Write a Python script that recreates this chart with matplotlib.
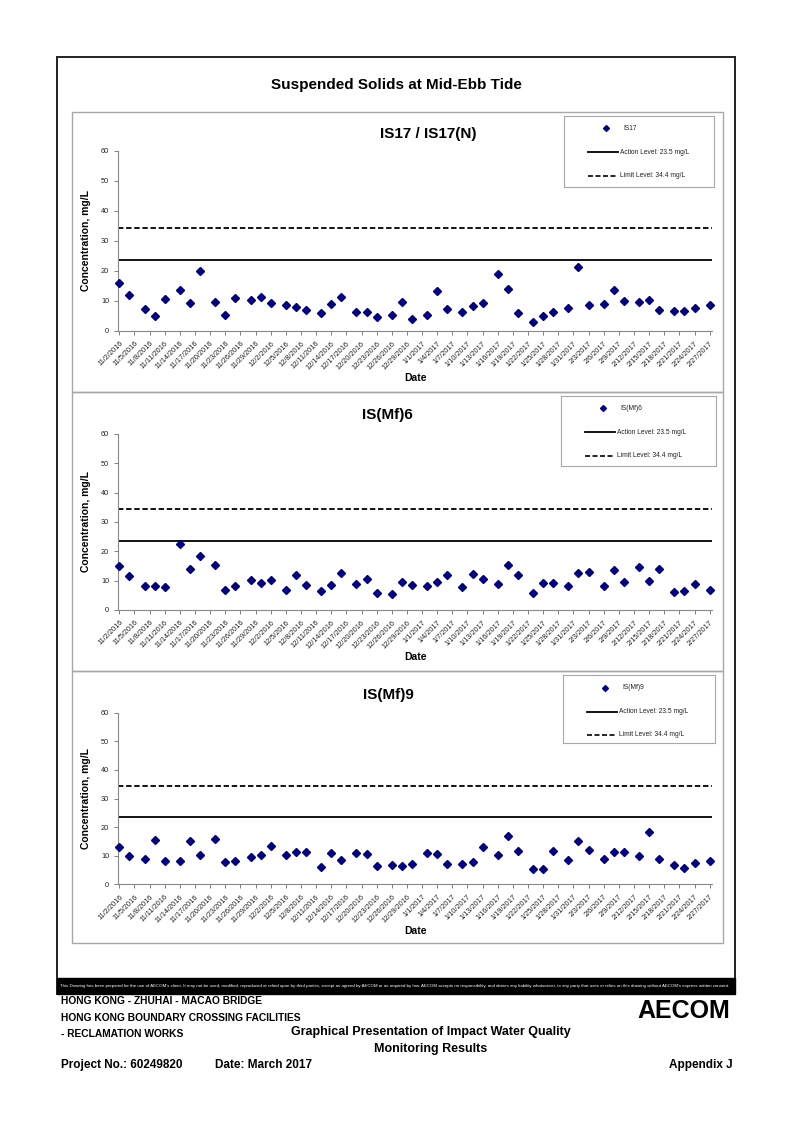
import matplotlib
matplotlib.use("Agg")
import matplotlib.pyplot as plt
import matplotlib.dates as mdates
from matplotlib.patches import Rectangle
import pandas as pd

plt.rcParams['font.family'] = ['Liberation Sans', 'DejaVu Sans']

# sampling dates (Mon / Wed / Fri)
dates = [
    "2016-11-02", "2016-11-04", "2016-11-07", "2016-11-09", "2016-11-11", "2016-11-14", "2016-11-16",
    "2016-11-18", "2016-11-21", "2016-11-23", "2016-11-25", "2016-11-28", "2016-11-30",
    "2016-12-02", "2016-12-05", "2016-12-07", "2016-12-09", "2016-12-12", "2016-12-14", "2016-12-16",
    "2016-12-19", "2016-12-21", "2016-12-23", "2016-12-26", "2016-12-28", "2016-12-30",
    "2017-01-02", "2017-01-04", "2017-01-06", "2017-01-09", "2017-01-11", "2017-01-13", "2017-01-16",
    "2017-01-18", "2017-01-20", "2017-01-23", "2017-01-25", "2017-01-27", "2017-01-30",
    "2017-02-01", "2017-02-03", "2017-02-06", "2017-02-08", "2017-02-10", "2017-02-13", "2017-02-15",
    "2017-02-17", "2017-02-20", "2017-02-22", "2017-02-24", "2017-02-27",
]

is17 = [16.0, 12.0, 7.3, 4.9, 10.5, 13.5, 9.4, 20.0, 9.8, 5.3, 11.0, 10.4, 11.3,
        9.4, 8.7, 7.9, 6.9, 5.9, 8.9, 11.3, 6.2, 6.4, 4.8, 5.2, 9.5, 3.9,
        5.4, 13.4, 7.2, 6.2, 8.3, 9.4, 18.9, 13.9, 6.1, 3.0, 5.0, 6.2, 7.5,
        21.2, 8.7, 9.1, 13.5, 9.9, 9.6, 10.3, 6.9, 6.5, 6.5, 7.5, 8.7]
ismf6 = [14.9, 11.7, 8.1, 8.3, 7.7, 22.6, 13.9, 18.5, 15.2, 6.8, 8.1, 10.2, 9.3,
         10.1, 6.8, 11.9, 8.6, 6.4, 8.5, 12.6, 8.9, 10.5, 5.7, 5.3, 9.5, 8.4,
         8.1, 9.7, 11.8, 7.8, 12.3, 10.7, 8.7, 15.2, 11.9, 5.9, 9.2, 9.2, 8.1,
         12.5, 13.1, 8.3, 13.5, 9.5, 14.8, 10.0, 13.9, 6.0, 6.6, 8.7, 6.8]
ismf9 = [13.2, 9.9, 8.9, 15.5, 8.2, 8.0, 15.1, 10.1, 15.7, 7.7, 8.2, 9.6, 10.4,
         13.3, 10.1, 11.3, 11.4, 5.9, 10.8, 8.5, 10.8, 10.5, 6.5, 6.9, 6.5, 7.0,
         11.1, 10.6, 7.2, 7.0, 7.9, 13.0, 10.3, 16.9, 11.8, 5.4, 5.2, 11.8, 8.6,
         15.1, 12.1, 8.9, 11.4, 11.2, 9.9, 18.4, 9.0, 6.8, 5.8, 7.3, 8.2]

stations = ["IS17", "IS(Mf)6", "IS(Mf)9"]
titles = ["IS17 / IS17(N)", "IS(Mf)6", "IS(Mf)9"]
series = [is17, ismf6, ismf9]
action_level = 23.5
limit_level = 34.4

W, H = 794, 1122


def rect(x0, y0, x1, y1):
    # pixel box (top-left origin) -> figure fraction
    return [x0 / W, 1 - y1 / H, (x1 - x0) / W, (y1 - y0) / H]


def box(x0, y0, x1, y1, **kw):
    r = rect(x0, y0, x1, y1)
    fig.add_artist(Rectangle((r[0], r[1]), r[2], r[3], transform=fig.transFigure, **kw))


x = pd.to_datetime(dates)
ticks = pd.date_range("2016-11-02", "2017-02-27", freq="3D")
tick_labels = [f"{d.month}/{d.day}/{d.year}" for d in ticks]
x0 = mdates.date2num(pd.Timestamp("2016-11-02"))

fig = plt.figure(figsize=(W / 100, H / 100), dpi=100)

# page frame and disclaimer bar
box(56.7, 57.3, 735.3, 994, fill=False, ec='#222222', lw=1.4)
box(56.7, 978, 735.3, 994, fc='black', ec='black', lw=1)
fig.text(395 / W, 1 - 986 / H,
         "This Drawing has been prepared for the use of AECOM's client. It may not be used, modified, "
         "reproduced or relied upon by third parties, except as agreed by AECOM or as required by law. "
         "AECOM accepts no responsibility, and denies any liability whatsoever, to any party that uses or "
         "relies on this drawing without AECOM's express written consent.",
         color='white', fontsize=3.2, ha='center', va='center')

fig.text(396 / W, 1 - 85 / H, "Suspended Solids at Mid-Ebb Tide",
         fontsize=11, fontweight='bold', ha='center', va='center')

panels = [(111.7, 391.7), (391.7, 671), (671, 943.3)]
axes_y = [(150.7, 331), (434, 610), (712.7, 884.3)]
title_pos = [(428, 134), (387, 415), (388, 695)]
legend_box = [(564.3, 116, 714.3, 187.3), (561, 396, 716.3, 466), (563.3, 675.3, 715.3, 743.3)]

for i in range(3):
    py0, py1 = panels[i]
    box(71.5, py0, 723.3, py1, fill=False, ec='#a8a8a8', lw=1)

    ay0, ay1 = axes_y[i]
    ax = fig.add_axes(rect(118.3, ay0, 711.7, ay1))
    ax.plot(x, series[i], linestyle='none', marker='D', ms=4.2, color='#000080', clip_on=False, zorder=3)
    ax.axhline(action_level, color='black', lw=1.3)
    ax.axhline(limit_level, color='black', lw=1.3, ls=(0, (3, 1.5)))
    ax.set_ylim(0, 60)
    ax.set_yticks(range(0, 61, 10))
    ax.set_xlim(x0 - 0.2, x0 + 117.4)
    ax.set_xticks(ticks)
    ax.set_xticklabels(tick_labels, rotation=45, ha='right', rotation_mode='anchor')
    ax.tick_params(labelsize=5.3, colors='#808080', labelcolor='#222222', length=3, width=0.7)
    for s in ['top', 'right']:
        ax.spines[s].set_visible(False)
    for s in ['left', 'bottom']:
        ax.spines[s].set_color('#888888')
        ax.spines[s].set_linewidth(0.8)
    ax.set_ylabel("Concentration, mg/L", fontsize=7.5, fontweight='bold', labelpad=7)
    ax.set_xlabel("Date", fontsize=7.5, fontweight='bold', labelpad=1)

    tx, ty = title_pos[i]
    fig.text(tx / W, 1 - ty / H, titles[i], fontsize=11, fontweight='bold', ha='center', va='center')

    # legend box
    lx0, ly0, lx1, ly1 = legend_box[i]
    lg = fig.add_axes(rect(lx0, ly0, lx1, ly1))
    lg.set_xlim(lx0, lx1)
    lg.set_ylim(ly1, ly0)
    lg.set_xticks([])
    lg.set_yticks([])
    for s in lg.spines.values():
        s.set_color('#a8a8a8')
        s.set_linewidth(0.8)
    lg.plot([lx0 + 41.5], [ly0 + 12.3], linestyle='none', marker='D', ms=3.0, color='#000080')
    lg.text(lx0 + 59.5, ly0 + 12.3, stations[i], fontsize=4.8, va='center', color='#222222')
    lg.plot([lx0 + 23.5, lx0 + 54], [ly0 + 36.3, ly0 + 36.3], color='black', lw=1.3)
    lg.text(lx0 + 56, ly0 + 36.3, "Action Level: 23.5 mg/L", fontsize=4.8, va='center', color='#222222')
    lg.plot([lx0 + 23.5, lx0 + 54], [ly0 + 59.7, ly0 + 59.7], color='black', lw=1.2, ls=(0, (3, 1.5)))
    lg.text(lx0 + 56, ly0 + 59.7, "Limit Level: 34.4 mg/L", fontsize=4.8, va='center', color='#222222')

# footer
foot = dict(fontweight='bold', va='center', family=['Liberation Sans Narrow', 'Liberation Sans'])
fig.text(61 / W, 1 - 1001 / H, "HONG KONG - ZHUHAI - MACAO BRIDGE", fontsize=7.4, **foot)
fig.text(61 / W, 1 - 1018 / H, "HONG KONG BOUNDARY CROSSING FACILITIES", fontsize=7.4, **foot)
fig.text(61 / W, 1 - 1034 / H, "- RECLAMATION WORKS", fontsize=7.4, **foot)
fig.text(431 / W, 1 - 1032 / H, "Graphical Presentation of Impact Water Quality", fontsize=9, ha='center', **foot)
fig.text(431 / W, 1 - 1049 / H, "Monitoring Results", fontsize=9, ha='center', **foot)
fig.text(61 / W, 1 - 1065 / H, "Project No.: 60249820", fontsize=8.5, **foot)
fig.text(215 / W, 1 - 1065 / H, "Date: March 2017", fontsize=8.5, **foot)
fig.text(733 / W, 1 - 1065 / H, "Appendix J", fontsize=8.5, ha='right', **foot)
fig.text(730 / W, 1 - 1011 / H, "AECOM", fontsize=18, fontweight='heavy', ha='right', va='center',
         family=['Liberation Sans Narrow', 'Liberation Sans'])

fig.savefig("out.png", dpi=100)
